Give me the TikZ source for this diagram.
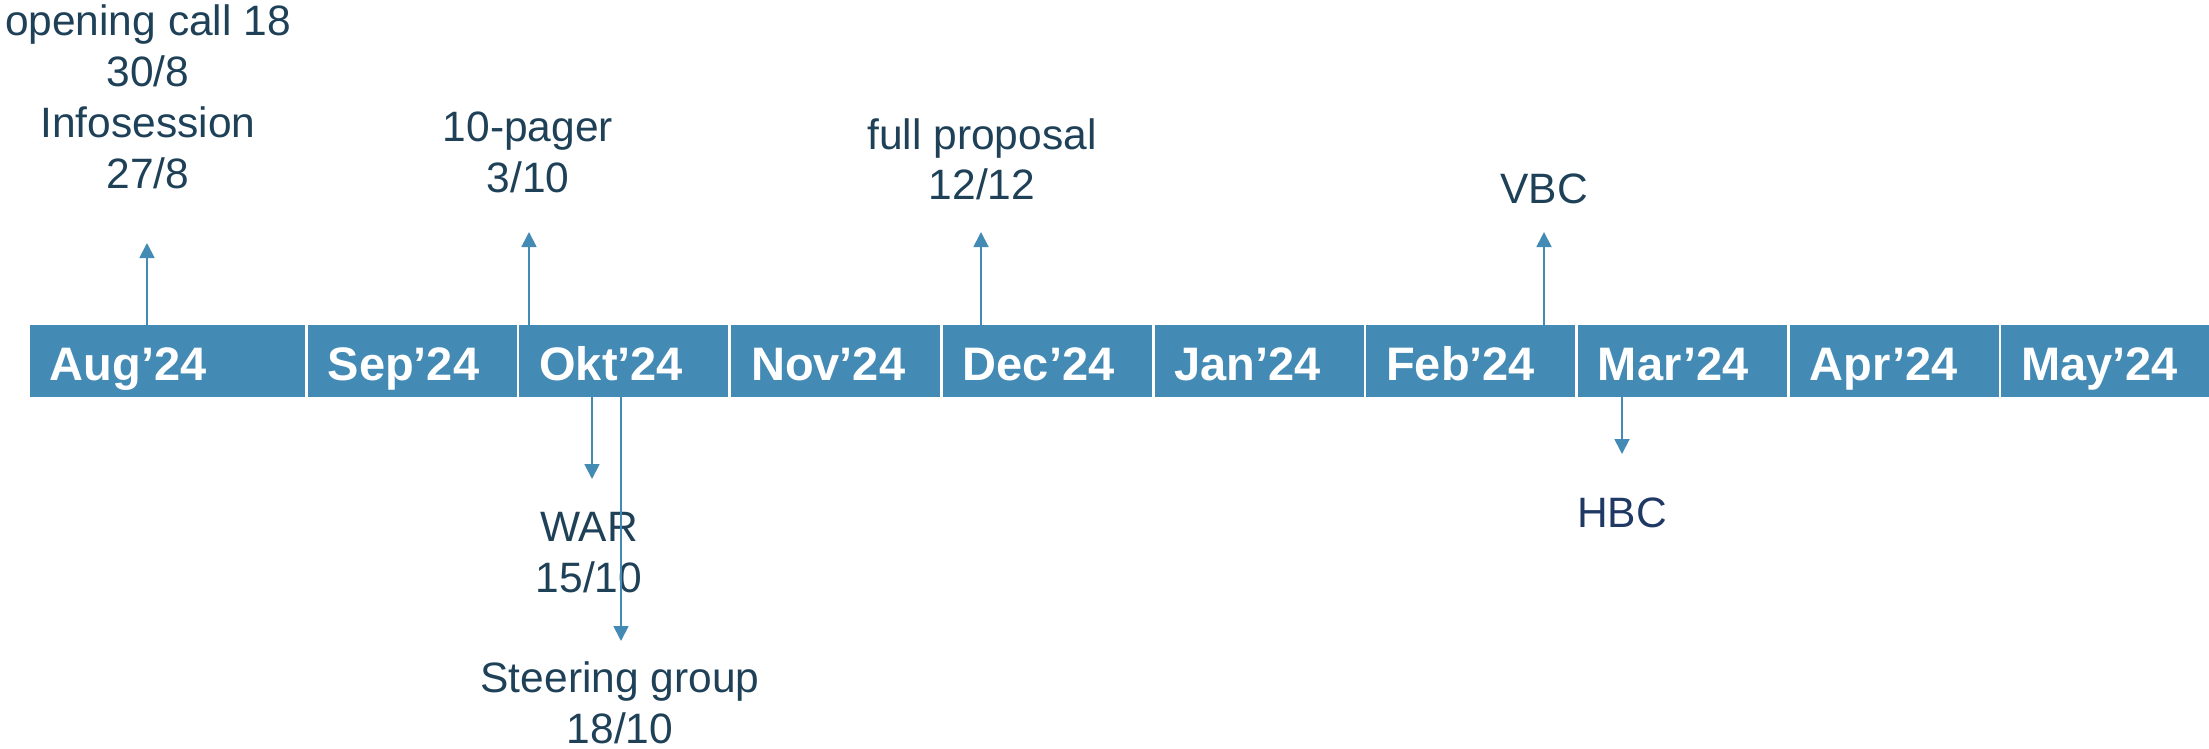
\documentclass[tikz,border=0pt]{standalone}
\usepackage{fontspec}
\setmainfont{Liberation Sans}
\usetikzlibrary{arrows.meta}
\definecolor{barblue}{RGB}{67,138,180}
\definecolor{labeltxt}{RGB}{31,65,88}
\definecolor{hbctxt}{RGB}{31,56,100}
\begin{document}
\begin{tikzpicture}[x=1pt,y=-1pt,
  month/.style={fill=barblue, text=white, font=\fontsize{47}{47}\selectfont\bfseries,
    anchor=north west, inner xsep=20pt, inner ysep=0pt, minimum height=72pt,
    text height=38pt, text depth=0pt, align=left, text width=169pt},
  evt/.style={text=labeltxt, font=\fontsize{42.5}{51}\selectfont, align=center, inner sep=0pt, anchor=base},
  arr/.style={draw=barblue, line width=1.8pt, -{Triangle[width=15pt,length=15pt]}}]
\useasboundingbox (0,0) rectangle (2209,749);
% month bar
\node[month, text width=235.5pt] (aug) at (29.5,325) {Aug’24};
\node[month] (sep) at (307.5,325) {Sep’24};
\node[month] (okt) at (519.2,325) {Okt’24};
\node[month] (nov) at (730.9,325) {Nov’24};
\node[month] (dec) at (942.6,325) {Dec’24};
\node[month] (jan) at (1154.3,325) {Jan’24};
\node[month] (feb) at (1366,325) {Feb’24};
\node[month] (mar) at (1577.7,325) {Mar’24};
\node[month] (apr) at (1789.4,325) {Apr’24};
\node[month] (may) at (2001.1,325) {May’24};
% labels (anchor = baseline of last line)
\node[evt] (open) at (148,188) {opening call 18\\30/8\\Infosession\\27/8};
\node[evt] (pager) at (528,192) {10-pager\\3/10};
\node[evt] (full) at (982,200) {full proposal\\12/12};
\node[evt] (vbc) at (1544,203) {VBC};
\node[evt] (war) at (589,592) {WAR\\15/10};
\node[evt] (steer) at (620,743) {Steering group\\18/10};
\node[evt, text=hbctxt] (hbc) at (1622,527) {HBC};
% arrows
\coordinate (a1) at (147,243);
\coordinate (a2) at (529,232);
\coordinate (a3) at (981,232);
\coordinate (a4) at (1544,232);
\coordinate (a5) at (592,479);
\coordinate (a6) at (621,641);
\coordinate (a7) at (1622,454);
\draw[arr] (aug.north -| a1) -- (a1);
\draw[arr] (okt.north -| a2) -- (a2);
\draw[arr] (dec.north -| a3) -- (a3);
\draw[arr] (feb.north -| a4) -- (a4);
\draw[arr] (okt.south -| a5) -- (a5);
\draw[arr] (okt.south -| a6) -- (a6);
\draw[arr] (mar.south -| a7) -- (a7);
\end{tikzpicture}
\end{document}
